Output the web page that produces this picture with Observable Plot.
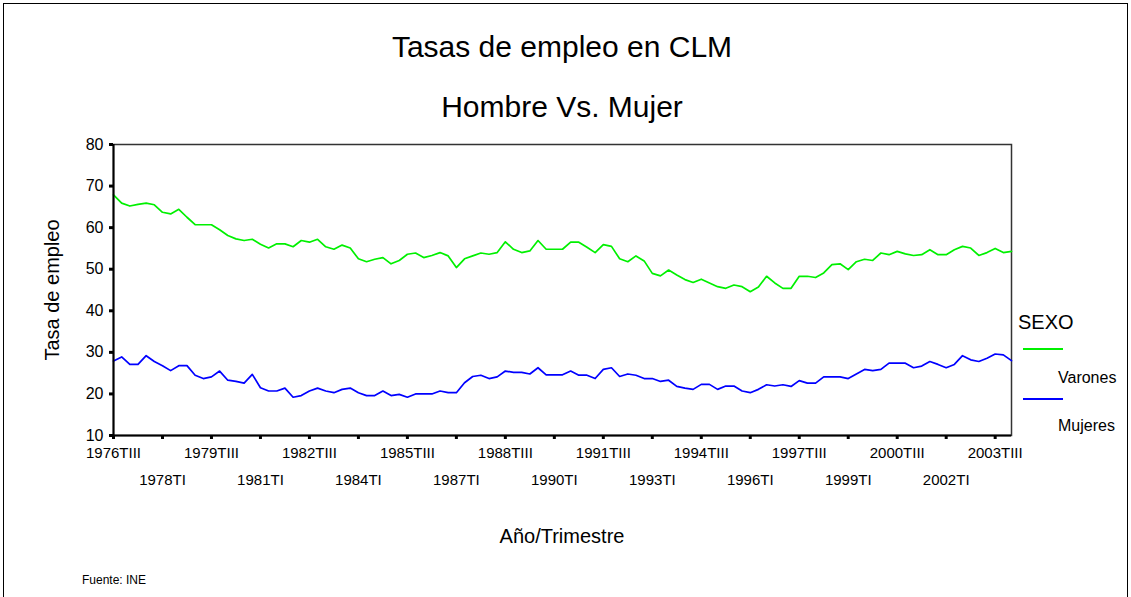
<!DOCTYPE html>
<html><head><meta charset="utf-8">
<script src="https://cdn.jsdelivr.net/npm/d3@7"></script>
<script src="https://cdn.jsdelivr.net/npm/@observablehq/plot@0.6"></script>
<style>
body{margin:0;background:#fff;font-family:"Liberation Sans",Arial,sans-serif;}
#wrap{position:relative;width:1131px;height:597px;overflow:hidden;background:#fff;}
#border{position:absolute;left:3px;top:3px;width:1125px;height:640px;border:1.5px solid #000;box-sizing:border-box;}
.t{position:absolute;white-space:nowrap;color:#000;line-height:1;}
.sw{position:absolute;height:1.6px;width:40px;}
</style></head><body>
<div id="wrap">
  <div id="border"></div>
  <div id="chart" style="position:absolute;left:0;top:0"></div>
  <div class="t" style="left:0;width:1124px;text-align:center;top:32px;font-size:30px">Tasas de empleo en CLM</div>
  <div class="t" style="left:0;width:1124px;text-align:center;top:92px;font-size:30px">Hombre Vs. Mujer</div>
  <div class="t" style="left:52px;top:290px;font-size:20px;transform:translate(-50%,-50%) rotate(-90deg)">Tasa de empleo</div>
  <div class="t" style="left:0;width:1124px;text-align:center;top:526px;font-size:20px">Año/Trimestre</div>
  <div class="t" style="left:82px;top:574px;font-size:12px">Fuente: INE</div>
  <div id="legend"></div>
</div>
<script>
const romans = ["I", "II", "III", "IV"];
// 111 quarters: 1976TIII ... 2004TI
const quarters = d3.range(111).map(i => `${1976 + Math.floor((2 + i) / 4)}T${romans[(2 + i) % 4]}`);

const varones = [
  67.9, 65.9, 65.2, 65.6, 65.9, 65.5, 63.7, 63.3, 64.4, 62.5,
  60.7, 60.7, 60.7, 59.5, 58.1, 57.3, 56.9, 57.2, 56.0, 55.1,
  56.1, 56.1, 55.4, 56.9, 56.5, 57.2, 55.4, 54.8, 55.8, 55.1,
  52.5, 51.8, 52.4, 52.8, 51.3, 52.1, 53.6, 53.9, 52.8, 53.3,
  54.0, 53.2, 50.4, 52.5, 53.2, 53.9, 53.6, 54.0, 56.6, 54.8,
  54.0, 54.4, 56.9, 54.8, 54.8, 54.8, 56.5, 56.5, 55.3, 54.0,
  55.9, 55.5, 52.5, 51.8, 53.2, 52.0, 49.0, 48.4, 49.8, 48.6,
  47.5, 46.8, 47.6, 46.7, 45.8, 45.4, 46.2, 45.8, 44.6, 45.7,
  48.3, 46.7, 45.4, 45.4, 48.3, 48.3, 48.0, 49.1, 51.1, 51.3,
  49.9, 51.8, 52.4, 52.1, 53.9, 53.5, 54.3, 53.7, 53.3, 53.5,
  54.7, 53.5, 53.5, 54.7, 55.5, 55.1, 53.3, 54.0, 55.0, 54.0,
  54.3
];
const mujeres = [
  27.9, 28.9, 27.1, 27.1, 29.2, 27.8, 26.8, 25.6, 26.8, 26.8,
  24.5, 23.7, 24.1, 25.5, 23.3, 23.0, 22.6, 24.7, 21.5, 20.7,
  20.7, 21.4, 19.2, 19.6, 20.7, 21.4, 20.7, 20.3, 21.1, 21.4,
  20.3, 19.6, 19.6, 20.7, 19.6, 19.9, 19.2, 20.0, 20.0, 20.0,
  20.7, 20.3, 20.3, 22.7, 24.2, 24.5, 23.7, 24.1, 25.5, 25.2,
  25.2, 24.8, 26.3, 24.6, 24.6, 24.6, 25.5, 24.5, 24.5, 23.7,
  25.9, 26.3, 24.2, 24.8, 24.5, 23.7, 23.7, 23.0, 23.3, 21.8,
  21.4, 21.1, 22.3, 22.3, 21.1, 21.9, 21.9, 20.7, 20.3, 21.1,
  22.2, 21.9, 22.2, 21.8, 23.2, 22.6, 22.6, 24.1, 24.1, 24.1,
  23.7, 24.8, 25.9, 25.6, 25.9, 27.4, 27.4, 27.4, 26.3, 26.7,
  27.8, 27.1, 26.3, 27.1, 29.2, 28.2, 27.8, 28.6, 29.6, 29.4,
  28.0
];
const yTicks = [10, 20, 30, 40, 50, 60, 70, 80];
const xTicksRow1 = ["1976TIII", "1979TIII", "1982TIII", "1985TIII", "1988TIII", "1991TIII", "1994TIII", "1997TIII", "2000TIII", "2003TIII"];
const xTicksRow2 = ["1978TI", "1981TI", "1984TI", "1987TI", "1990TI", "1993TI", "1996TI", "1999TI", "2002TI"];
const seriesNames = ["Varones", "Mujeres"];
const seriesColors = ["#00f000", "#0000ff"];

const rows = [];
quarters.forEach((q, i) => {
  rows.push({q, sexo: seriesNames[0], v: varones[i]});
  rows.push({q, sexo: seriesNames[1], v: mujeres[i]});
});

const chart = Plot.plot({
  width: 1131,
  height: 597,
  marginLeft: 113,
  marginRight: 120,
  marginTop: 144,
  marginBottom: 162,
  style: {fontFamily: "'Liberation Sans', Arial, sans-serif", color: "#000", background: "transparent"},
  x: {type: "point", domain: quarters, padding: 0, round: false, axis: null},
  y: {domain: [10, 80], axis: null},
  color: {domain: seriesNames, range: seriesColors},
  marks: [
    Plot.frame({stroke: "#333", strokeWidth: 1.5}),
    Plot.line(rows, {x: "q", y: "v", z: "sexo", stroke: "sexo", strokeWidth: 1.7}),
    Plot.ruleY([10], {stroke: "#000", strokeWidth: 2}),
    Plot.ruleX([quarters[0]], {stroke: "#000", strokeWidth: 2}),
    Plot.axisY({ticks: yTicks, tickSize: 4, tickPadding: 6, strokeWidth: 3, fontSize: 16, label: null, stroke: "#000"}),
    Plot.axisX({ticks: xTicksRow1, tickSize: 4, tickPadding: 8, strokeWidth: 3, fontSize: 15, label: null, stroke: "#000"}),
    Plot.axisX({ticks: xTicksRow2, tickSize: 4, tickPadding: 35, strokeWidth: 3, fontSize: 15, label: null, stroke: "#000"})
  ]
});
document.getElementById("chart").appendChild(chart);

// Legend
const lg = document.getElementById("legend");
const head = document.createElement("div");
head.className = "t"; head.style.cssText = "left:1018px;top:312px;font-size:20px"; head.textContent = "SEXO";
lg.appendChild(head);
const swTops = [348, 398], txtTops = [370, 418];
seriesNames.forEach((name, i) => {
  const sw = document.createElement("div");
  sw.className = "sw"; sw.style.left = "1023px"; sw.style.top = swTops[i] + "px"; sw.style.background = seriesColors[i];
  lg.appendChild(sw);
  const tx = document.createElement("div");
  tx.className = "t"; tx.style.cssText = `left:1058px;top:${txtTops[i]}px;font-size:16px`; tx.textContent = name;
  lg.appendChild(tx);
});
</script>
</body></html>
